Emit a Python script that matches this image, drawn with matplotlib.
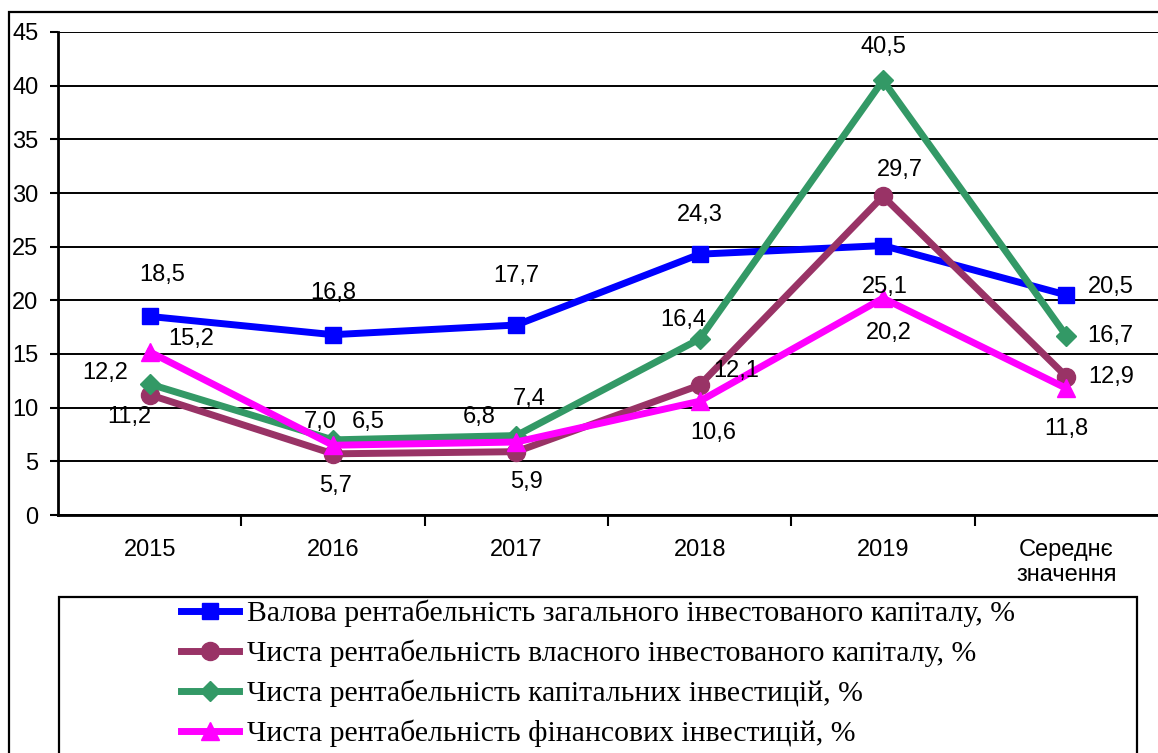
import matplotlib
matplotlib.use("Agg")
import matplotlib.pyplot as plt
from matplotlib.patches import Rectangle

# categories and series
categories = ["2015", "2016", "2017", "2018", "2019", "Середнє\nзначення"]
gross_total = [18.5, 16.8, 17.7, 24.3, 25.1, 20.5]
net_own = [11.2, 5.7, 5.9, 12.1, 29.7, 12.9]
net_capital = [12.2, 7.0, 7.4, 16.4, 40.5, 16.7]
net_financial = [15.2, 6.5, 6.8, 10.6, 20.2, 11.8]

names = [
    "Валова рентабельність загального інвестованого капіталу, %",
    "Чиста рентабельність власного інвестованого капіталу, %",
    "Чиста рентабельність капітальних інвестицій, %",
    "Чиста рентабельність фінансових інвестицій, %",
]

# label offsets in points (dx, dy) for each point
off_gross = [(9, 30), (0, 30), (0, 35), (0, 28), (1, -30), (32, 6)]
off_own = [(-15, -16), (2, -23), (7, -22), (26, 10), (12, 19), (32, 0)]
off_cap = [(-32, 8), (-9, 13), (9, 26), (-12, 14), (0, 24), (32, 0)]
off_fin = [(30, 9), (25, 17), (-27, 18), (10, -23), (4, -25), (0, -29)]

plt.rcParams['font.family'] = ['Liberation Sans', 'DejaVu Sans']

fig = plt.figure(figsize=(11.58, 7.53), dpi=100)
ax = fig.add_axes([58 / 1158, 1 - 515 / 753, 1 - 58 / 1158, (515 - 32) / 753])

x = list(range(len(categories)))
series = [
    (gross_total, "#0000FF", "s", 11, off_gross),
    (net_own, "#993366", "o", 13, off_own),
    (net_capital, "#339966", "D", 10, off_cap),
    (net_financial, "#FF00FF", "^", 13, off_fin),
]

handles = []
for (vals, col, mk, ms, offs), name in zip(series, names):
    h, = ax.plot(x, vals, color=col, lw=5, marker=mk, ms=ms, mfc=col, mec=col,
                 label=name, zorder=3)
    handles.append(h)
    for xi, v, (dx, dy) in zip(x, vals, offs):
        ax.annotate(f"{v:.1f}".replace(".", ","), (xi, v), xytext=(dx, dy),
                    textcoords="offset points", ha="center", va="center",
                    fontsize=17, zorder=4)

ax.set_xlim(-0.5, len(categories) - 0.5)
ax.set_ylim(0, 45)
ax.set_yticks(range(0, 46, 5))
ax.yaxis.grid(True, color="black", lw=1.4)
ax.set_axisbelow(True)

ax.set_xticks(x)
ax.set_xticklabels(categories, fontsize=17, linespacing=1.2)
ax.set_xticks([i + 0.5 for i in range(len(categories) - 1)], minor=True)
ax.tick_params(axis="x", which="major", length=0, pad=17)
ax.tick_params(axis="x", which="minor", length=8, width=1.5, direction="out")
ax.tick_params(axis="y", length=6, width=1.5, pad=8, labelsize=17)

for s in ["top", "right"]:
    ax.spines[s].set_visible(False)
ax.spines["left"].set_linewidth(2)
ax.spines["bottom"].set_linewidth(2)

# outer chart border and legend box
fig.patches.append(Rectangle((9 / 1158, -0.1), 2, 1.1 - 12 / 753, transform=fig.transFigure,
                             fill=False, ec="black", lw=1.6))
fig.patches.append(Rectangle((59 / 1158, -0.1), (1137 - 59) / 1158, 0.1 + 1 - 597 / 753,
                             transform=fig.transFigure, fill=False, ec="black", lw=1.6))

fig.legend(handles=handles, loc="upper left", bbox_to_anchor=(169 / 1158, 1 - 588 / 753),
           frameon=False, prop={"family": "Liberation Serif", "size": 21.4},
           handlelength=1.95, handletextpad=0.27, labelspacing=0.42, borderaxespad=0,
           numpoints=1)

fig.savefig("out.png", dpi=100)
